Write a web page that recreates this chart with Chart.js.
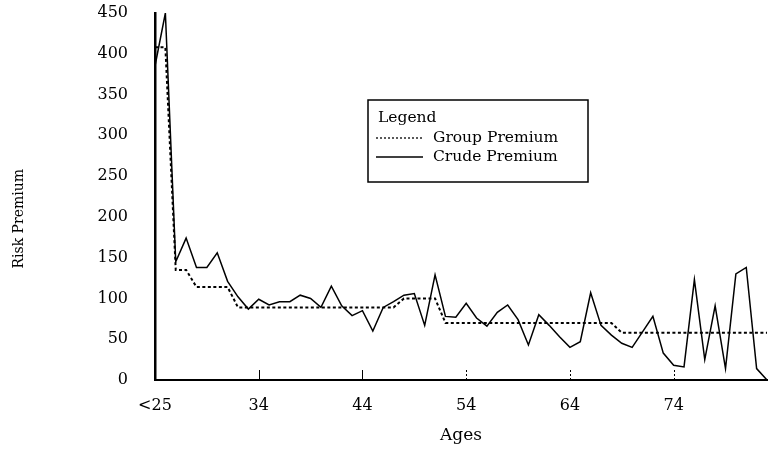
<!DOCTYPE html>
<html><head><meta charset="utf-8">
<script src="https://cdn.jsdelivr.net/npm/chart.js@4/dist/chart.umd.min.js"></script>
<style>html,body{margin:0;padding:0;background:#fff}#wrap{width:770px;height:450px}</style>
</head><body><div id="wrap"><canvas id="c" width="770" height="450"></canvas></div>
<script>
const ages = ["<25","25","26","27","28","29","30","31","32","33","34","35","36","37","38","39","40","41","42","43","44","45","46","47","48","49","50","51","52","53","54","55","56","57","58","59","60","61","62","63","64","65","66","67","68","69","70","71","72","73","74","75","76","77","78","79","80","81","82","83"];
const tickAges = ["<25","34","44","54","64","74"];
const groupPremium = [408,408,135,135,114,114,114,114,89,89,89,89,89,89,89,89,89,89,89,89,89,89,89,89,100,100,100,100,70,70,70,70,70,70,70,70,70,70,70,70,70,70,70,70,70,58,58,58,58,58,58,58,58,58,58,58,58,58,58,58];
const crudePremium = [385,450,145,174,138,138,156,121,102,87,99,92,96,96,104,100,89,115,91,79,85,60,89,96,104,106,67,129,78,77,94,76,66,83,92,74,43,80,67,53,40,47,107,67,55,45,40,59,78,33,18,16,123,25,91,14,130,138,14,0];
const yMin = 0, yMax = 450, yStep = 50;
const seriesNames = ["Group Premium","Crude Premium"];
const legendTitle = "Legend";
const yTitle = "Risk Premium";
const xTitle = "Ages";

const FONT = '"DejaVu Serif", "Liberation Serif", serif';

const innerTicks = {
  id: 'innerTicks',
  afterDatasetsDraw(chart) {
    const x = chart.scales.x, ctx = chart.ctx, bottom = chart.chartArea.bottom;
    ctx.save();
    ctx.strokeStyle = '#000';
    ctx.lineWidth = 1;
    ages.forEach((a, i) => {
      if (i === 0 || !tickAges.includes(a)) return;
      const px = Math.round(x.getPixelForValue(i)) + 0.5;
      ctx.setLineDash(i >= 30 ? [2, 2] : []);
      ctx.beginPath(); ctx.moveTo(px, bottom); ctx.lineTo(px, bottom - 10); ctx.stroke();
    });
    ctx.restore();
  }
};

const boxLegend = {
  id: 'boxLegend',
  afterDatasetsDraw(chart, args, o) {
    const ctx = chart.ctx;
    ctx.save();
    ctx.fillStyle = '#fff';
    ctx.fillRect(o.x, o.y, o.w, o.h);
    ctx.strokeStyle = '#000'; ctx.lineWidth = 1.5; ctx.setLineDash([]);
    ctx.strokeRect(o.x, o.y, o.w, o.h);
    ctx.fillStyle = '#000';
    ctx.font = '15.5px ' + FONT;
    ctx.textBaseline = 'middle';
    ctx.fillText(o.title, o.x + 10, o.y + 18);
    chart.data.datasets.forEach((ds, k) => {
      const yy = o.y + 38 + k * 19;
      ctx.beginPath();
      ctx.setLineDash(k === 0 ? [2, 2] : []);
      ctx.lineWidth = 1.3;
      ctx.moveTo(o.x + 8, yy); ctx.lineTo(o.x + 55, yy); ctx.stroke();
      ctx.setLineDash([]);
      ctx.fillText(ds.label, o.x + 65, yy);
    });
    ctx.restore();
  }
};

new Chart(document.getElementById('c'), {
  type: 'line',
  data: {
    labels: ages,
    datasets: [
      { label: seriesNames[0], data: groupPremium, borderColor: '#000', borderWidth: 2, borderDash: [3, 2.5], pointRadius: 0, fill: false, tension: 0 },
      { label: seriesNames[1], data: crudePremium, borderColor: '#000', borderWidth: 1.5, pointRadius: 0, fill: false, tension: 0 }
    ]
  },
  options: {
    responsive: false,
    animation: false,
    events: [],
    layout: { padding: { left: 0, right: 3, top: 13, bottom: 0 } },
    plugins: {
      legend: { display: false },
      tooltip: { enabled: false },
      boxLegend: { x: 368, y: 100, w: 220, h: 82, title: legendTitle }
    },
    scales: {
      x: {
        type: 'category',
        offset: false,
        grid: { display: true, color: 'rgba(0,0,0,0)', drawOnChartArea: false, drawTicks: true, tickLength: 14 },
        border: { display: true, color: '#000', width: 2 },
        ticks: {
          autoSkip: false, maxRotation: 0, minRotation: 0, padding: 2,
          color: '#000', font: { family: FONT, size: 16 },
          callback: (v, i) => tickAges.includes(ages[i]) ? ages[i] : ''
        },
        title: { display: true, text: xTitle, color: '#000', font: { family: FONT, size: 17 }, padding: { top: 0, bottom: 4 } },
        afterFit: s => { s.height = 70; }
      },
      y: {
        min: yMin, max: yMax,
        grid: { display: true, color: 'rgba(0,0,0,0)', drawOnChartArea: false, drawTicks: true, tickLength: 25 },
        border: { display: true, color: '#000', width: 2.5 },
        ticks: { stepSize: yStep, padding: 2, color: '#000', font: { family: FONT, size: 16 } },
        title: { display: true, text: yTitle + '\u00a0'.repeat(10), color: '#000', font: { family: FONT, size: 14 }, padding: { top: 11, bottom: 0 } },
        afterFit: s => { s.width = 155; }
      }
    }
  },
  plugins: [innerTicks, boxLegend]
});
</script>
</body></html>
